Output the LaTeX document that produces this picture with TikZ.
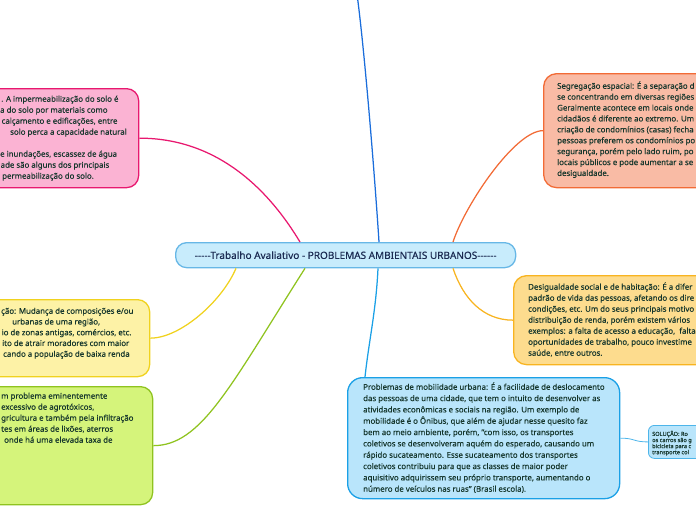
\documentclass[tikz,border=0pt]{standalone}
\usepackage{fontspec}
\setmainfont{Noto Sans}[FakeBold=0.3]
\newcommand\mmln[2]{\hbox{\strut\kern#1pt\relax #2}}
\newcommand\mmblock[3]{\vtop{\fontsize{#1}{#2}\selectfont\baselineskip=#2pt\relax #3}}
\definecolor{txtc}{HTML}{15362C}
\definecolor{ctrtxt}{HTML}{1B2B52}
\definecolor{pinkF}{HTML}{FBB3D3}\definecolor{pinkB}{HTML}{E8186F}
\definecolor{oraF}{HTML}{F9BBA5}\definecolor{oraB}{HTML}{F26B36}
\definecolor{golF}{HTML}{FDDC8E}\definecolor{golB}{HTML}{F8B420}
\definecolor{yelF}{HTML}{FDF2A6}\definecolor{yelB}{HTML}{F0D21E}
\definecolor{greF}{HTML}{D5F47B}\definecolor{greB}{HTML}{8FC31F}
\definecolor{bluF}{HTML}{B9E5FB}\definecolor{bluB}{HTML}{1AA0E6}
\definecolor{ctrF}{HTML}{C8ECFC}\definecolor{ctrB}{HTML}{67B7E6}
\definecolor{topB}{HTML}{1A6DDB}
\definecolor{solB}{HTML}{4DB5EA}
\begin{document}
\begin{tikzpicture}[x=1pt,y=-1pt,
  box/.style={rectangle, line width=1.3pt, anchor=north west, inner sep=0pt},
  txt/.style={inner sep=0pt, anchor=north west, text=txtc},
  conn/.style={line width=1.25pt}]
\useasboundingbox (0,0) rectangle (696,520);
\clip (0,0) rectangle (696,520);
% boxes
\node[box, draw=pinkB, fill=pinkF, rounded corners=12pt, minimum width=178pt, minimum height=99pt] (pink) at (-40,88) {};
\node[box, draw=oraB, fill=oraF, rounded corners=13pt, minimum width=200pt, minimum height=114pt] (ora) at (543,73) {};
\node[box, draw=golB, fill=golF, rounded corners=13pt, minimum width=230pt, minimum height=89pt] (gol) at (513,275) {};
\node[box, draw=yelB, fill=yelF, rounded corners=12pt, minimum width=189pt, minimum height=77pt] (yel) at (-40,299) {};
\node[box, draw=greB, fill=greF, rounded corners=12pt, minimum width=192pt, minimum height=118pt] (gre) at (-40,386) {};
\node[box, draw=bluB, fill=bluF, rounded corners=15pt, minimum width=272pt, minimum height=121pt] (blu) at (347,377) {};
\node[box, draw=solB, fill=bluF, line width=0.8pt, rounded corners=6pt, minimum width=80pt, minimum height=33pt] (sol) at (648,425) {};
\node[box, draw=ctrB, fill=ctrF, rounded corners=11pt, minimum width=340pt, minimum height=25pt] (ctr) at (175,242) {};
% connector points on central node
\coordinate (cPink) at ([xshift=125pt]ctr.north west);
\coordinate (cTop) at ([xshift=204pt]ctr.north west);
\coordinate (cOra) at ([xshift=278pt]ctr.north west);
\coordinate (cYel) at ([xshift=61pt]ctr.south west);
\coordinate (cGre) at ([xshift=130pt]ctr.south west);
\coordinate (cBlu) at ([xshift=203pt]ctr.south west);
\coordinate (cGol) at ([xshift=278pt]ctr.south west);
\coordinate (topEnd) at (357,-6);
\coordinate (bluTop) at ([xshift=18pt]blu.north west);
% connectors
\draw[conn, draw=pinkB] (pink.east) .. controls +(80,0) and +(-30,-50) .. (cPink);
\draw[conn, draw=topB] (cTop) .. controls +(-4,-62) and +(8,60) .. (topEnd);
\draw[conn, draw=oraB] (ora.west) .. controls +(-28,0) and +(12,-37) .. (cOra);
\draw[conn, draw=golB] (gol.west) .. controls +(-30,0) and +(10,30) .. (cGol);
\draw[conn, draw=yelB] (yel.east) .. controls +(30,0) and +(-14,33) .. (cYel);
\draw[conn, draw=greB] (gre.east) .. controls +(48,0) and +(-75,118) .. (cGre);
\draw[conn, draw=bluB] (cBlu) .. controls +(-2,43) and +(4,-37) .. (bluTop);
\draw[line width=0.8pt, draw=solB] (blu.east) .. controls +(15,0) and +(-15,0) .. (sol.west);
% texts
\node[text=ctrtxt, inner sep=0pt, font=\fontsize{10}{12}\selectfont] (tCtr) at (ctr.center) {-{}-{}-{}-{}-Trabalho Avaliativo - PROBLEMAS AMBIENTAIS URBANOS-{}-{}-{}-{}-{}-};
\node[txt] (tPink) at (0,93.8) {\mmblock{7.85}{11}{%
\mmln{1}{. A impermeabilização do solo é}
\mmln{0}{a do solo por materiais como}
\mmln{1.5}{calçamento e edificações, entre}
\mmln{10}{solo perca a capacidade natural}
\mmln{0}{}
\mmln{0}{e inundações, escassez de água}
\mmln{0.5}{ade são alguns dos principais}
\mmln{2}{permeabilização do solo.}}};
\node[txt] (tOra) at (557,80.9) {\mmblock{7.85}{10.9}{%
\mmln{0}{Segregação espacial: É a separação d}
\mmln{0}{se concentrando em diversas regiões}
\mmln{0}{Geralmente acontece em locais onde}
\mmln{0}{cidadãos é diferente ao extremo. Um}
\mmln{0}{criação de condomínios (casas) fecha}
\mmln{0}{pessoas preferem os condomínios po}
\mmln{0}{segurança, porém pelo lado ruim, po}
\mmln{0}{locais públicos e pode aumentar a se}
\mmln{0}{desigualdade.}}};
\node[txt] (tGol) at (528,281.8) {\mmblock{7.85}{11}{%
\mmln{0}{Desigualdade social e de habitação: É a difer}
\mmln{0}{padrão de vida das pessoas, afetando os dire}
\mmln{0}{condições, etc. Um do seus principais motivo}
\mmln{0}{distribuição de renda, porém existem vários}
\mmln{0}{exemplos: a falta de acesso a educação,\ \ falta}
\mmln{0}{oportunidades de trabalho, pouco investime}
\mmln{0}{saúde, entre outros.}}};
\node[txt] (tYel) at (0,306) {\mmblock{7.85}{10.75}{%
\mmln{1}{ção: Mudança de composições e/ou}
\mmln{12}{urbanas de uma região,}
\mmln{1.5}{io de zonas antigas, comércios, etc.}
\mmln{2}{ito de atrair moradores com maior}
\mmln{3}{cando a população de baixa renda}}};
\node[txt] (tGre) at (0,390.8) {\mmblock{7.85}{11}{%
\mmln{1}{m problema eminentemente}
\mmln{1}{excessivo de agrotóxicos,}
\mmln{1}{gricultura e também pela infiltração}
\mmln{1}{tes em áreas de lixões, aterros}
\mmln{4}{onde há uma elevada taxa de}}};
\node[txt] (tBlu) at (363,381.6) {\mmblock{7.85}{11.33}{%
\mmln{0}{Problemas de mobilidade urbana: É a facilidade de deslocamento}
\mmln{0}{das pessoas de uma cidade, que tem o intuito de desenvolver as}
\mmln{0}{atividades econômicas e sociais na região. Um exemplo de}
\mmln{0}{mobilidade é o Ônibus, que além de ajudar nesse quesito faz}
\mmln{0}{bem ao meio ambiente, porém, "com isso, os transportes}
\mmln{0}{coletivos se desenvolveram aquém do esperado, causando um}
\mmln{0}{rápido sucateamento. Esse sucateamento dos transportes}
\mmln{0}{coletivos contribuiu para que as classes de maior poder}
\mmln{0}{aquisitivo adquirissem seu próprio transporte, aumentando o}
\mmln{0}{número de veículos nas ruas" (Brasil escola).}}};
\node[txt] (tSol) at (652,430.6) {\mmblock{5.6}{6.1}{%
\mmln{0}{SOLUÇÃO: Ro}
\mmln{0}{os carros são g}
\mmln{0}{bicicleta para c}
\mmln{0}{transporte col}}};
\end{tikzpicture}
\end{document}
